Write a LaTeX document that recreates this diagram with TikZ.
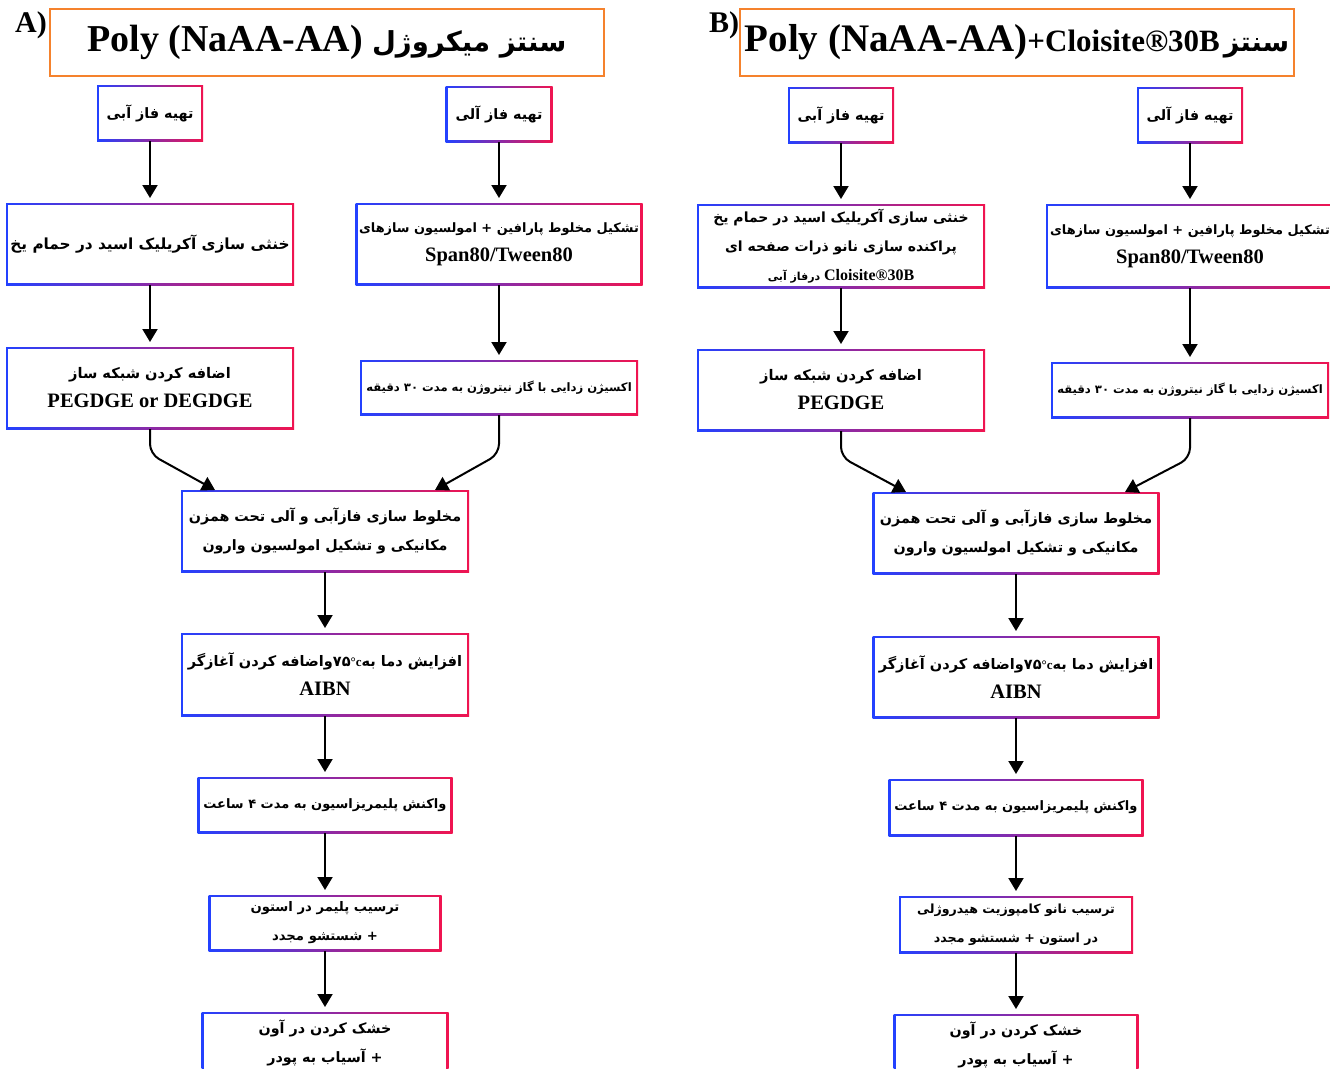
\documentclass[tikz,border=0pt]{standalone}
\usepackage{fontspec}
\setmainfont{Liberation Serif}
\newfontfamily\pfont[Script=Arabic]{DejaVu Sans}
\TeXXeTstate=1
\usetikzlibrary{arrows.meta}
\definecolor{gblue}{RGB}{35,65,255}
\definecolor{gred}{RGB}{240,20,80}
\definecolor{torange}{RGB}{245,130,45}
\newcommand{\fa}[1]{\beginR #1\endR}
\newcommand{\la}[1]{\beginL #1\endL}
\newcommand{\lt}{\rmfamily\bfseries\fontsize{20.5}{29}\selectfont}
% white inner panel of a framed box: width, height (in pt, outer size), text
\newcommand{\gb}[3]{{\setlength{\fboxsep}{0pt}\colorbox{white}{\parbox[c][\dimexpr #2pt-4.8pt\relax][c]{\dimexpr #1pt-4.8pt\relax}{\centering #3}}}}
\newcommand{\degc}{{\rmfamily\fontsize{13}{13}\selectfont °c}}
\begin{document}
\begin{tikzpicture}[x=1pt,y=-1pt,
  gbox/.style={rectangle, inner sep=2.4pt, outer sep=0pt, left color=gblue, right color=gred,
    font=\pfont\bfseries\fontsize{14.3}{29}\selectfont},
  fs/.style={font=\pfont\bfseries\fontsize{#1}{29}\selectfont},
  arr/.style={draw=black, line width=2pt, -{Triangle[width=15pt,length=13pt]}},
  tbox/.style={draw=torange, line width=1.7pt, inner sep=0pt, fill=white},
  lab/.style={font=\rmfamily\bfseries\fontsize{30}{30}\selectfont}
]
\useasboundingbox (0,0) rectangle (1330,1068);
\fill[white] (0,0) rectangle (1330,1068);

% ---------------- A ----------------
\node[lab] (la) at (31,25) {A)};
\node[tbox, minimum width=554, minimum height=67] (ta) at (327,42.5)
  {\raisebox{-4pt}{\fa{{\pfont\bfseries\fontsize{27.5}{30}\selectfont سنتز میکروژل}\hspace{9pt}\la{{\rmfamily\bfseries\fontsize{38}{40}\selectfont Poly (NaAA-AA)}}}}\hspace{8pt}};

\node[gbox] (a1) at (150,113) {\gb{106}{56}{\fa{تهیه فاز آبی}}};
\node[gbox] (a2) at (499,114) {\gb{107}{56}{\fa{تهیه فاز آلی}}};
\node[gbox, fs=15.3] (a3) at (150,244) {\gb{288}{82}{\fa{خنثی سازی آکریلیک اسید در حمام یخ}}};
\node[gbox, fs=12.9] (a4) at (499,244)
  {\gb{287}{82}{\fa{تشکیل مخلوط پارافین + امولسیون سازهای}\\{\lt Span80/Tween80}}};
\node[gbox, fs=14.6] (a5) at (150,388)
  {\gb{288}{82}{\fa{اضافه کردن شبکه ساز}\\{\lt PEGDGE or DEGDGE}}};
\node[gbox, fs=11.6] (a6) at (499,387.5)
  {\gb{278}{55}{\fa{اکسیژن زدایی با گاز نیتروژن به مدت ۳۰ دقیقه}}};
\node[gbox] (a7) at (325,531)
  {\gb{288}{82}{\fa{مخلوط سازی فازآبی و آلی تحت همزن}\\\fa{مکانیکی و تشکیل امولسیون وارون}}};
\node[gbox, fs=14.5] (a8) at (325,674.5)
  {\gb{288}{83}{\fa{افزایش دما به\la{۷۵\degc}واضافه کردن آغازگر}\\{\lt AIBN}}};
\node[gbox, fs=13] (a9) at (325,805)
  {\gb{255}{56}{\fa{واکنش پلیمریزاسیون به مدت ۴ ساعت}}};
\node[gbox, fs=13.2] (a10) at (325,923)
  {\gb{233}{56}{\fa{ترسیب پلیمر در استون}\\\fa{+ شستشو مجدد}}};
\node[gbox] (a11) at (325,1043)
  {\gb{247}{62}{\fa{خشک کردن در آون}\\\fa{+ آسیاب به پودر}}};

\coordinate (a7l) at (215,490);
\coordinate (a7r) at (435,490);

\draw[arr, shorten >=5pt] (a1) -- (a3);
\draw[arr, shorten >=5pt] (a2) -- (a4);
\draw[arr, shorten >=5pt] (a3) -- (a5);
\draw[arr, shorten >=5pt] (a4) -- (a6);
\draw[arr, rounded corners=10pt] (a5.south) -- ++(0,25) -- (a7l);
\draw[arr, rounded corners=10pt] (a6.south) -- ++(0,39) -- (a7r);
\draw[arr, shorten >=5pt] (a7) -- (a8);
\draw[arr, shorten >=5pt] (a8) -- (a9);
\draw[arr, shorten >=5pt] (a9) -- (a10);
\draw[arr, shorten >=5pt] (a10) -- (a11);

% ---------------- B ----------------
\node[lab] (lb) at (724,25) {B)};
\node[tbox, minimum width=554, minimum height=67] (tb) at (1017,42.5)
  {\raisebox{-4pt}{\fa{{\pfont\bfseries\fontsize{27}{30}\selectfont سنتز}\hspace{4pt}\la{{\rmfamily\bfseries\fontsize{39}{40}\selectfont Poly (NaAA-AA){\fontsize{31}{30}\selectfont +Cloisite®30B}}}}}};

\node[gbox] (b1) at (841,115) {\gb{106}{56}{\fa{تهیه فاز آبی}}};
\node[gbox] (b2) at (1190,115) {\gb{106}{56}{\fa{تهیه فاز آلی}}};
\node[gbox, fs=14] (b3) at (841,246)
  {\gb{288}{84}{\fa{خنثی سازی آکریلیک اسید در حمام یخ}\\\fa{پراکنده سازی نانو ذرات صفحه ای}\\{\fontsize{11}{22}\selectfont\fa{\la{{\rmfamily\bfseries\fontsize{16}{22}\selectfont Cloisite®30B}} درفاز آبی}}}};
\node[gbox, fs=12.9] (b4) at (1190,246)
  {\gb{288}{84}{\fa{تشکیل مخلوط پارافین + امولسیون سازهای}\\{\lt Span80/Tween80}}};
\node[gbox, fs=14.6] (b5) at (841,390)
  {\gb{288}{82}{\fa{اضافه کردن شبکه ساز}\\{\lt PEGDGE}}};
\node[gbox, fs=11.6] (b6) at (1190,390)
  {\gb{278}{56}{\fa{اکسیژن زدایی با گاز نیتروژن به مدت ۳۰ دقیقه}}};
\node[gbox] (b7) at (1016,533)
  {\gb{287}{82}{\fa{مخلوط سازی فازآبی و آلی تحت همزن}\\\fa{مکانیکی و تشکیل امولسیون وارون}}};
\node[gbox, fs=14.5] (b8) at (1016,677)
  {\gb{287}{82}{\fa{افزایش دما به\la{۷۵\degc}واضافه کردن آغازگر}\\{\lt AIBN}}};
\node[gbox, fs=13] (b9) at (1016,807.5)
  {\gb{255}{57}{\fa{واکنش پلیمریزاسیون به مدت ۴ ساعت}}};
\node[gbox, fs=12.6] (b10) at (1016,924.5)
  {\gb{234}{57}{\fa{ترسیب نانو کامپوزیت هیدروژلی}\\\fa{در استون + شستشو مجدد}}};
\node[gbox] (b11) at (1016,1045)
  {\gb{245}{62}{\fa{خشک کردن در آون}\\\fa{+ آسیاب به پودر}}};

\coordinate (b7l) at (906,492);
\coordinate (b7r) at (1125,492);

\draw[arr, shorten >=5pt] (b1) -- (b3);
\draw[arr, shorten >=5pt] (b2) -- (b4);
\draw[arr, shorten >=5pt] (b3) -- (b5);
\draw[arr, shorten >=5pt] (b4) -- (b6);
\draw[arr, rounded corners=10pt] (b5.south) -- ++(0,26) -- (b7l);
\draw[arr, rounded corners=10pt] (b6.south) -- ++(0,40) -- (b7r);
\draw[arr, shorten >=5pt] (b7) -- (b8);
\draw[arr, shorten >=5pt] (b8) -- (b9);
\draw[arr, shorten >=5pt] (b9) -- (b10);
\draw[arr, shorten >=5pt] (b10) -- (b11);
\end{tikzpicture}
\end{document}
